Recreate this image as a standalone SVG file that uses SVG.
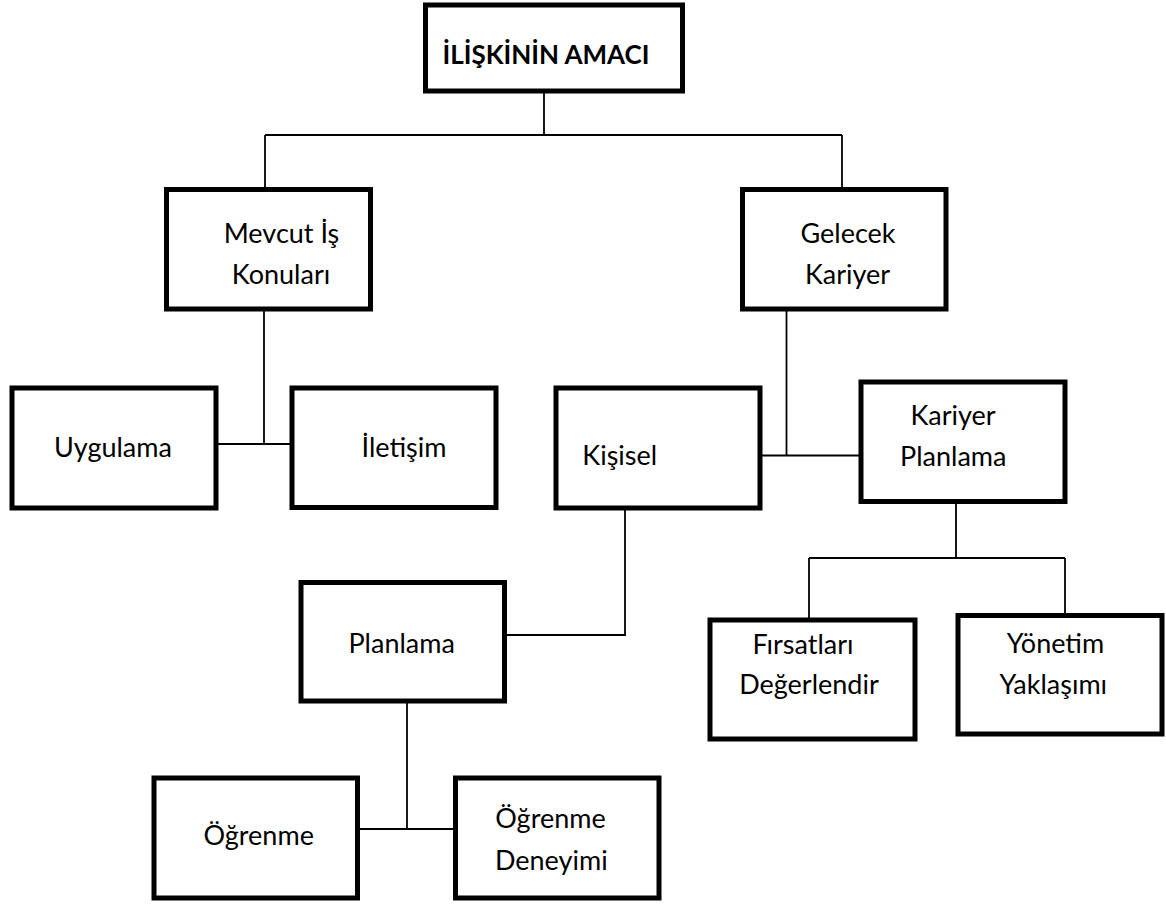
<svg xmlns="http://www.w3.org/2000/svg" width="1166" height="904" viewBox="0 0 1166 904">
<style>
.box{fill:#fff;stroke:#000;stroke-width:5}
.t{font-family:Lato,"Liberation Sans",sans-serif;font-size:27px;fill:#000;text-anchor:middle}
.b{font-weight:bold;font-size:26px}
.c{fill:none;stroke:#000;stroke-width:1.8}
</style>
<rect width="1166" height="904" fill="#fff"/>
<g id="connectors">
<path class="c" d="M544 91V135M265 135H842M265 135V189.5M842 135V189.5"/>
<path class="c" d="M264 309V444M216 444H292"/>
<path class="c" d="M786.5 309V455.5M760 455.5H861"/>
<path class="c" d="M625 508V635H504.5"/>
<path class="c" d="M407 701V829M357.5 829H455.5"/>
<path class="c" d="M956 501.5V558M809 558H1065M809 558V620M1065 558V615.5"/>
</g>
<g id="n-amac"><rect class="box" x="425.5" y="5" width="257" height="86"/><text class="t b" x="546" y="64">İLİŞKİNİN AMACI</text></g>
<g id="n-mevcut"><rect class="box" x="166.5" y="189.5" width="204" height="119.5"/><text class="t" x="281.5" y="243">Mevcut İş</text><text class="t" x="281" y="284">Konuları</text></g>
<g id="n-gelecek"><rect class="box" x="742.5" y="189.5" width="203.5" height="119.5"/><text class="t" x="848" y="243">Gelecek</text><text class="t" x="847.5" y="283.5">Kariyer</text></g>
<g id="n-uygulama"><rect class="box" x="12" y="388" width="204" height="120"/><text class="t" x="113" y="457">Uygulama</text></g>
<g id="n-iletisim"><rect class="box" x="292" y="388" width="204" height="119.5"/><text class="t" x="404" y="457">İletişim</text></g>
<g id="n-kisisel"><rect class="box" x="556" y="388" width="204" height="120"/><text class="t" x="619.7" y="465">Kişisel</text></g>
<g id="n-kariyerplan"><rect class="box" x="861" y="382" width="204" height="119.5"/><text class="t" x="953" y="425">Kariyer</text><text class="t" x="953.3" y="465.7">Planlama</text></g>
<g id="n-planlama"><rect class="box" x="301" y="582.5" width="203.5" height="118.5"/><text class="t" x="401.7" y="652.7">Planlama</text></g>
<g id="n-firsat"><rect class="box" x="710" y="620" width="205" height="119"/><text class="t" x="803" y="654">Fırsatları</text><text class="t" x="809" y="694.3">Değerlendir</text></g>
<g id="n-yonetim"><rect class="box" x="958" y="615.5" width="204" height="118.5"/><text class="t" x="1055.5" y="653.3">Yönetim</text><text class="t" x="1053.3" y="694">Yaklaşımı</text></g>
<g id="n-ogrenme"><rect class="box" x="154" y="778" width="203.5" height="120"/><text class="t" x="258.7" y="845">Öğrenme</text></g>
<g id="n-deneyim"><rect class="box" x="455.5" y="778" width="203.5" height="120"/><text class="t" x="550.5" y="828.3">Öğrenme</text><text class="t" x="551.3" y="870">Deneyimi</text></g>
</svg>
